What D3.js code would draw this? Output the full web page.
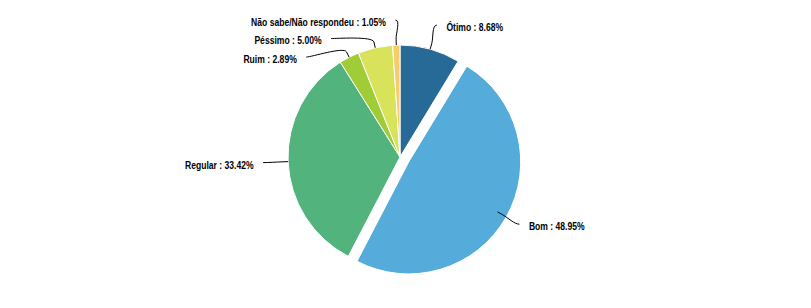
<!DOCTYPE html>
<html>
<head>
<meta charset="utf-8">
<script src="https://cdn.jsdelivr.net/npm/d3@7"></script>
<style>
  body { margin: 0; background: #fff; }
  svg { display: block; }
</style>
</head>
<body>
<svg id="pie-svg"></svg>
<script>
const categories = ["Ótimo", "Bom", "Regular", "Ruim", "Péssimo", "Não sabe/Não respondeu"];
const values = [8.68, 48.95, 33.42, 2.89, 5.00, 1.05];
const colors = ["#276a97", "#55abd9", "#53b37d", "#9fcc37", "#d8e35b", "#f5cd69"];
const slicedCats = ["Bom"];

const width = 811;
const height = 308;
const cx = 400, cy = 157;
const radius = 112;
const labelRadius = 137;   // where the connectors begin
const slicedOffset = 10;
const breakOffset = 6;     // connector bend, just outside the slice
const labelGap = 18.5;     // min vertical spacing between labels
const textPad = 9.5;       // space between connector end and text
const textSqueeze = 0.78;  // labels in the original use a narrow face

let svg = d3.select("#pie-svg").attr("width", width).attr("height", height);
let chart = svg.append("g");

const data = categories.map((c, i) => ({ name: c, value: values[i], color: colors[i] }));

const pie = d3.pie().sort(null).value(d => d.value);
const arcs = pie(data);
const arc = d3.arc().innerRadius(0).outerRadius(radius);

// point on circle around the center, d3 angle (0 = top, clockwise)
function polar(a, r) {
    return [cx + Math.sin(a) * r, cy - Math.cos(a) * r];
}

// slices
chart.selectAll("path.slice")
    .data(arcs)
    .enter()
    .append("path")
    .attr("class", "slice")
    .attr("d", arc)
    .attr("fill", d => d.data.color)
    .attr("stroke", "#ffffff")
    .attr("stroke-width", 1)
    .attr("stroke-linejoin", "round")
    .attr("transform", d => {
        let mid = (d.startAngle + d.endAngle) / 2;
        let off = slicedCats.includes(d.data.name) ? slicedOffset : 0;
        return "translate(" + (cx + Math.sin(mid) * off) + "," + (cy - Math.cos(mid) * off) + ")";
    });

// label layout: natural y on the label circle, then push down to avoid overlap
let labels = arcs.map(d => {
    let mid = (d.startAngle + d.endAngle) / 2;
    let p = polar(mid, labelRadius);
    return { d: d, mid: mid, left: mid > Math.PI, y: p[1] };
});

[true, false].forEach(side => {
    let group = labels.filter(l => l.left === side).sort((a, b) => a.y - b.y);
    for (let i = 1; i < group.length; i++) {
        if (group[i].y < group[i - 1].y + labelGap) group[i].y = group[i - 1].y + labelGap;
    }
});

labels.forEach(l => {
    let dy = Math.max(-labelRadius, Math.min(labelRadius, l.y - cy));
    let dx = Math.sqrt(labelRadius * labelRadius - dy * dy);
    l.x = cx + (l.left ? -dx : dx);
    l.breakAt = polar(l.mid, radius + breakOffset);
    l.touch = polar(l.mid, radius);
});

// soft connectors (bend near the slice)
chart.selectAll("path.connector")
    .data(labels)
    .enter()
    .append("path")
    .attr("class", "connector")
    .attr("d", l => {
        let p = d3.path();
        p.moveTo(l.x, l.y);
        p.bezierCurveTo(
            l.x + (l.left ? 5 : -5), l.y,
            2 * l.breakAt[0] - l.touch[0], 2 * l.breakAt[1] - l.touch[1],
            l.breakAt[0], l.breakAt[1]);
        p.lineTo(l.touch[0], l.touch[1]);
        return p.toString();
    })
    .attr("fill", "none")
    .attr("stroke", "#000000")
    .attr("stroke-width", 1);

// text labels
chart.selectAll("text.label")
    .data(labels)
    .enter()
    .append("text")
    .attr("class", "label")
    .attr("transform", l => "translate(" + (l.x + (l.left ? -textPad : textPad)) + "," + (l.y + 3) + ") scale(" + textSqueeze + ",1)")
    .attr("dominant-baseline", "middle")
    .attr("text-anchor", l => l.left ? "end" : "start")
    .attr("font-family", "'Liberation Sans', Arial, sans-serif")
    .attr("font-weight", "bold")
    .attr("font-size", "11px")
    .attr("fill", "#000000")
    .text(l => l.d.data.name + " : " + l.d.data.value.toFixed(2) + "%");
</script>
</body>
</html>
